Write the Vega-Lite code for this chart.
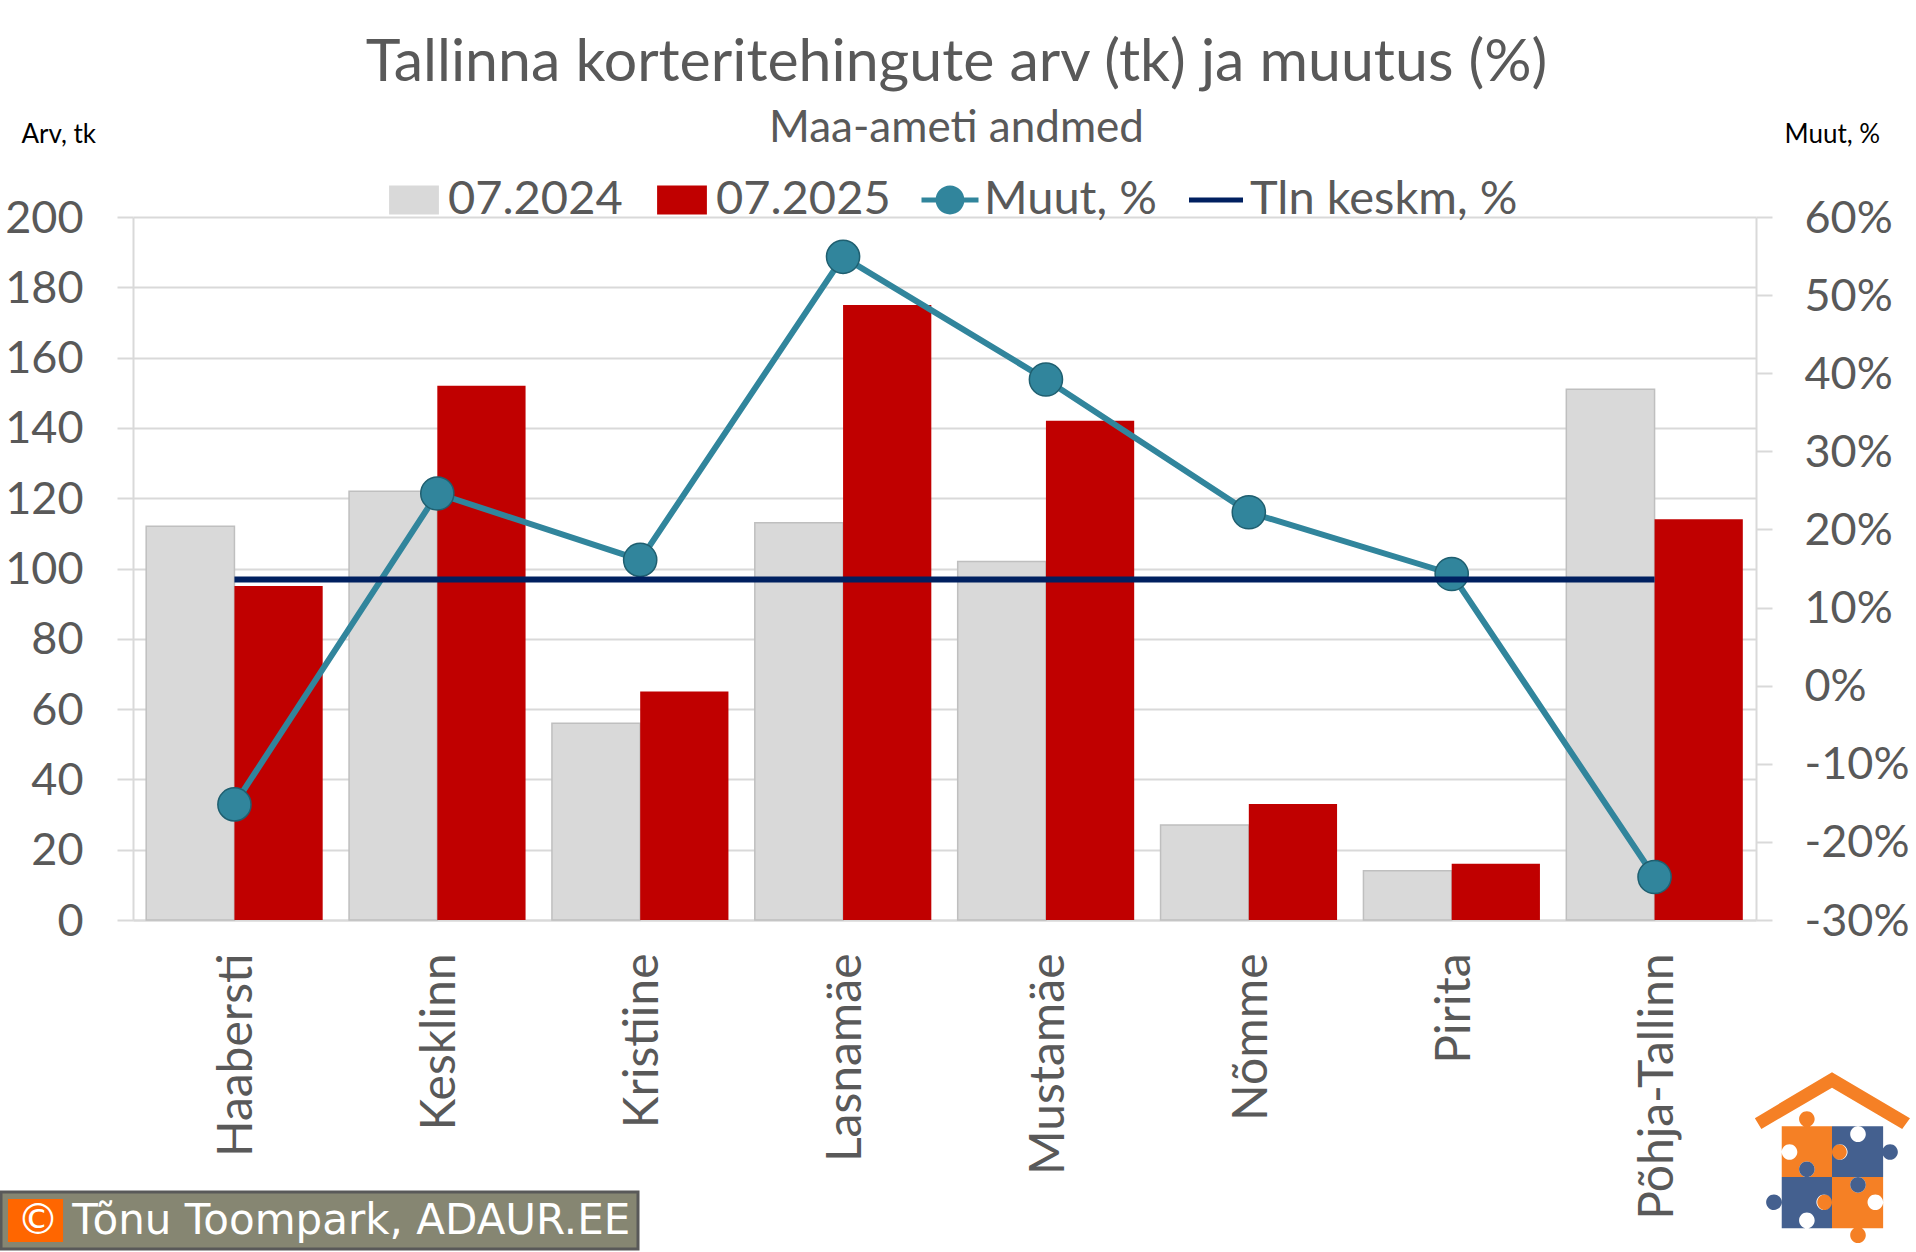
{
  "$schema": "https://vega.github.io/schema/vega-lite/v6.json",
  "autosize": "none",
  "width": 1623,
  "height": 703,
  "padding": {"left": 133, "top": 217, "right": 160, "bottom": 332},
  "background": "white",
  "title": {
    "text": "Tallinna korteritehingute arv (tk) ja muutus (%)",
    "subtitle": "Maa-ameti andmed",
    "anchor": "middle",
    "frame": "group",
    "dx": 12,
    "offset": -30,
    "font": "Lato",
    "fontWeight": "normal",
    "fontSize": 59,
    "color": "#595959",
    "subtitleFont": "Lato",
    "subtitleFontSize": 44,
    "subtitleColor": "#595959",
    "subtitlePadding": 14
  },
  "datasets": {
    "table": [
      {"piirkond": "Haabersti", "series": "07.2024", "value": 112},
      {"piirkond": "Kesklinn", "series": "07.2024", "value": 122},
      {"piirkond": "Kristiine", "series": "07.2024", "value": 56},
      {"piirkond": "Lasnamäe", "series": "07.2024", "value": 113},
      {"piirkond": "Mustamäe", "series": "07.2024", "value": 102},
      {"piirkond": "Nõmme", "series": "07.2024", "value": 27},
      {"piirkond": "Pirita", "series": "07.2024", "value": 14},
      {"piirkond": "Põhja-Tallinn", "series": "07.2024", "value": 151},
      {"piirkond": "Haabersti", "series": "07.2025", "value": 95},
      {"piirkond": "Kesklinn", "series": "07.2025", "value": 152},
      {"piirkond": "Kristiine", "series": "07.2025", "value": 65},
      {"piirkond": "Lasnamäe", "series": "07.2025", "value": 175},
      {"piirkond": "Mustamäe", "series": "07.2025", "value": 142},
      {"piirkond": "Nõmme", "series": "07.2025", "value": 33},
      {"piirkond": "Pirita", "series": "07.2025", "value": 16},
      {"piirkond": "Põhja-Tallinn", "series": "07.2025", "value": 114},
      {"piirkond": "Haabersti", "series": "Muut, %", "value": -0.152},
      {"piirkond": "Kesklinn", "series": "Muut, %", "value": 0.246},
      {"piirkond": "Kristiine", "series": "Muut, %", "value": 0.161},
      {"piirkond": "Lasnamäe", "series": "Muut, %", "value": 0.549},
      {"piirkond": "Mustamäe", "series": "Muut, %", "value": 0.392},
      {"piirkond": "Nõmme", "series": "Muut, %", "value": 0.222},
      {"piirkond": "Pirita", "series": "Muut, %", "value": 0.143},
      {"piirkond": "Põhja-Tallinn", "series": "Muut, %", "value": -0.245},
      {"piirkond": "Haabersti", "series": "Tln keskm, %", "value": 0.136},
      {"piirkond": "Kesklinn", "series": "Tln keskm, %", "value": 0.136},
      {"piirkond": "Kristiine", "series": "Tln keskm, %", "value": 0.136},
      {"piirkond": "Lasnamäe", "series": "Tln keskm, %", "value": 0.136},
      {"piirkond": "Mustamäe", "series": "Tln keskm, %", "value": 0.136},
      {"piirkond": "Nõmme", "series": "Tln keskm, %", "value": 0.136},
      {"piirkond": "Pirita", "series": "Tln keskm, %", "value": 0.136},
      {"piirkond": "Põhja-Tallinn", "series": "Tln keskm, %", "value": 0.136}
    ],
    "marks": [
      {"piirkond": "Haabersti", "credit": "© Tõnu Toompark, ADAUR.EE", "logo": "ADAUR katus", "logo2": "ADAUR pusle"}
    ]
  },
  "encoding": {
    "x": {
      "field": "piirkond",
      "type": "nominal",
      "sort": null,
      "scale": {
        "type": "band",
        "domain": ["Haabersti", "Kesklinn", "Kristiine", "Lasnamäe", "Mustamäe", "Nõmme", "Pirita", "Põhja-Tallinn"],
        "paddingInner": 0.13,
        "paddingOuter": 0.065
      },
      "axis": {
        "title": null,
        "labelAngle": -90,
        "labelAlign": "right",
        "labelBaseline": "middle",
        "labelPadding": 33,
        "labelOffset": 4,
        "labelLimit": 1000,
        "labelFont": "Lato",
        "labelFontSize": 48,
        "labelColor": "#595959",
        "ticks": false,
        "domainColor": "#d9d9d9",
        "domainWidth": 2
      }
    }
  },
  "layer": [
    {
      "data": {"name": "table"},
      "transform": [{"filter": "indexof(['07.2024','07.2025'], datum.series) >= 0"}],
      "mark": {"type": "bar", "strokeWidth": 1.5},
      "encoding": {
        "xOffset": {"field": "series", "type": "nominal", "scale": {"domain": ["07.2024", "07.2025"], "paddingInner": 0, "paddingOuter": 0}},
        "y": {
          "field": "value",
          "type": "quantitative",
          "scale": {"domain": [0, 200], "nice": false},
          "axis": {
            "orient": "left",
            "values": [0, 20, 40, 60, 80, 100, 120, 140, 160, 180, 200],
            "title": "Arv, tk",
            "titleFont": "Lato",
            "titleFontSize": 26,
            "titleFontWeight": "normal",
            "titleColor": "black",
            "titleAngle": 0,
            "titleAlign": "left",
            "titleBaseline": "alphabetic",
            "titleX": -112,
            "titleY": -75,
            "grid": true,
            "gridColor": "#d9d9d9",
            "gridWidth": 2,
            "domainColor": "#d9d9d9",
            "domainWidth": 2,
            "tickColor": "#d9d9d9",
            "tickWidth": 2,
            "tickSize": 16,
            "labelFont": "Lato",
            "labelFontSize": 45,
            "labelColor": "#595959",
            "labelPadding": 34,
            "labelOffset": 1
          }
        },
        "color": {
          "field": "series",
          "type": "nominal",
          "scale": {
            "domain": ["07.2024", "07.2025", "Muut, %", "Tln keskm, %"],
            "range": ["#d9d9d9", "#c00000", "#31859c", "#002060"]
          }
        },
        "stroke": {
          "condition": {"test": "datum.series === '07.2024'", "value": "#bfbfbf"},
          "value": null
        }
      }
    },
    {
      "data": {"name": "table"},
      "encoding": {
        "y": {
          "field": "value",
          "type": "quantitative",
          "scale": {"domain": [-0.3, 0.6], "nice": false},
          "axis": {
            "orient": "right",
            "values": [-0.3, -0.2, -0.1, 0, 0.1, 0.2, 0.3, 0.4, 0.5, 0.6],
            "labelExpr": "(datum.value < 0 ? '-' : '') + format(abs(datum.value), '.0%')",
            "title": "Muut, %",
            "titleFont": "Lato",
            "titleFontSize": 26,
            "titleFontWeight": "normal",
            "titleColor": "black",
            "titleAngle": 0,
            "titleAlign": "left",
            "titleBaseline": "alphabetic",
            "titleX": 28,
            "titleY": -75,
            "grid": false,
            "domainColor": "#d9d9d9",
            "domainWidth": 2,
            "tickColor": "#d9d9d9",
            "tickWidth": 2,
            "tickSize": 16,
            "labelFont": "Lato",
            "labelFontSize": 45,
            "labelColor": "#595959",
            "labelPadding": 32,
            "labelOffset": 1
          }
        },
        "color": {
          "field": "series",
          "type": "nominal",
          "scale": {"domain": ["07.2024", "07.2025", "Muut, %", "Tln keskm, %"], "range": ["#d9d9d9", "#c00000", "#31859c", "#002060"]}
        }
      },
      "layer": [
        {
          "transform": [{"filter": "datum.series === 'Muut, %'"}],
          "mark": {"type": "line", "strokeWidth": 6}
        },
        {
          "transform": [{"filter": "datum.series === 'Muut, %'"}],
          "mark": {"type": "point", "filled": true, "shape": "circle", "size": 1100, "stroke": "#1f5f70", "strokeWidth": 1.5, "opacity": 1}
        },
        {
          "transform": [{"filter": "datum.series === 'Tln keskm, %'"}],
          "mark": {"type": "line", "strokeWidth": 6}
        },
        {
          "transform": [{"filter": "false"}],
          "mark": {"type": "point", "filled": true, "size": 0},
          "encoding": {
            "color": {
              "field": "series",
              "type": "nominal",
              "scale": {"domain": ["07.2024", "07.2025", "Muut, %", "Tln keskm, %"], "range": ["#d9d9d9", "#c00000", "#31859c", "#002060"]},
              "legend": {
                "title": null,
                "orient": "none",
                "direction": "horizontal",
                "columns": 4,
                "legendX": 251,
                "legendY": -47,
                "symbolSize": 3600,
                "symbolStrokeWidth": 0,
                "symbolOpacity": 1,
                "labelFont": "Lato",
                "labelFontSize": 47,
                "labelColor": "#595959",
                "labelOffset": 4,
                "labelLimit": 1000,
                "columnPadding": 29,
                "padding": 0
              }
            },
            "shape": {
              "field": "series",
              "type": "nominal",
              "scale": {
                "domain": ["07.2024", "07.2025", "Muut, %", "Tln keskm, %"],
                "range": [
                  "M-.83,-.48 H.83 V.48 H-.83 Z",
                  "M-.83,-.48 H.83 V.48 H-.83 Z",
                  "M-.95,-.08 H.95 V.08 H-.95 Z M-.48,0 A.48,.48 0 1 1 .48,0 A.48,.48 0 1 1 -.48,0 Z",
                  "M-.9,-.08 H.9 V.08 H-.9 Z"
                ]
              },
              "legend": {
                "title": null,
                "orient": "none",
                "direction": "horizontal",
                "columns": 4,
                "legendX": 251,
                "legendY": -47,
                "symbolSize": 3600,
                "symbolStrokeWidth": 0,
                "symbolOpacity": 1,
                "labelFont": "Lato",
                "labelFontSize": 47,
                "labelColor": "#595959",
                "labelOffset": 4,
                "labelLimit": 1000,
                "columnPadding": 29,
                "padding": 0
              }
            }
          }
        }
      ]
    },
    {
      "data": {"name": "marks"},
      "mark": {"type": "point", "filled": true, "size": 0, "color": "#ff6600"},
      "encoding": {
        "opacity": {
          "field": "credit",
          "type": "nominal",
          "scale": {"range": [1]},
          "legend": {
            "title": null,
            "orient": "none",
            "legendX": -132,
            "legendY": 975,
            "symbolType": "M-1,-1 H1.56 V1 H-1 Z",
            "symbolSize": 1849,
            "symbolStrokeWidth": 0,
            "labelFont": "DejaVu Sans",
            "labelFontSize": 42,
            "labelColor": "white",
            "labelOffset": -34,
            "labelLimit": 1000,
            "fillColor": "#868672",
            "strokeColor": "#595959",
            "padding": 7
          }
        }
      }
    },
    {
      "data": {"name": "marks"},
      "mark": {"type": "point", "filled": true, "size": 0, "color": "#f58025"},
      "encoding": {
        "strokeDash": {
          "field": "logo",
          "type": "nominal",
          "scale": {"range": [[1, 0]]},
          "legend": {
            "title": null,
            "orient": "none",
            "legendX": 1612,
            "legendY": 854,
            "symbolType": "M-.89,-.46 L0,-.99 L.9,-.46 L.81,-.335 L0,-.81 L-.815,-.335 Z M-.58,-.365 H0 V.22 H-.58 Z M-.38,-.45 A.09,.09 0 1 1 -.2,-.45 A.09,.09 0 1 1 -.38,-.45 Z M-.01,-.07 A.09,.09 0 1 1 .17,-.07 A.09,.09 0 1 1 -.01,-.07 Z M-.58,-.07 A.09,.09 0 1 0 -.4,-.07 A.09,.09 0 1 0 -.58,-.07 Z M-.38,.13 A.09,.09 0 1 0 -.2,.13 A.09,.09 0 1 0 -.38,.13 Z M0,.22 H.59 V.81 H0 Z M-.17,.51 A.09,.09 0 1 1 .01,.51 A.09,.09 0 1 1 -.17,.51 Z M.21,.89 A.09,.09 0 1 1 .39,.89 A.09,.09 0 1 1 .21,.89 Z M.41,.51 A.09,.09 0 1 0 .59,.51 A.09,.09 0 1 0 .41,.51 Z M.21,.31 A.09,.09 0 1 0 .39,.31 A.09,.09 0 1 0 .21,.31 Z",
            "symbolSize": 30044,
            "symbolStrokeWidth": 0,
            "symbolOpacity": 1,
            "labelExpr": "''",
            "labelOffset": 0,
            "padding": 0
          }
        }
      }
    },
    {
      "data": {"name": "marks"},
      "mark": {"type": "point", "filled": true, "size": 0, "color": "#44608f"},
      "encoding": {
        "strokeWidth": {
          "field": "logo2",
          "type": "ordinal",
          "scale": {"range": [0]},
          "legend": {
            "title": null,
            "orient": "none",
            "legendX": 1699,
            "legendY": 941,
            "symbolType": "M0,-.365 H.59 V.22 H0 Z M.58,-.07 A.09,.09 0 1 1 .76,-.07 A.09,.09 0 1 1 .58,-.07 Z M.21,.31 A.09,.09 0 1 1 .39,.31 A.09,.09 0 1 1 .21,.31 Z M0,-.07 A.09,.09 0 1 0 .18,-.07 A.09,.09 0 1 0 0,-.07 Z M.21,-.275 A.09,.09 0 1 0 .39,-.275 A.09,.09 0 1 0 .21,-.275 Z M-.58,.22 H0 V.81 H-.58 Z M-.38,.13 A.09,.09 0 1 1 -.2,.13 A.09,.09 0 1 1 -.38,.13 Z M-.76,.51 A.09,.09 0 1 1 -.58,.51 A.09,.09 0 1 1 -.76,.51 Z M-.18,.51 A.09,.09 0 1 0 0,.51 A.09,.09 0 1 0 -.18,.51 Z M-.38,.72 A.09,.09 0 1 0 -.2,.72 A.09,.09 0 1 0 -.38,.72 Z",
            "symbolSize": 30044,
            "symbolStrokeWidth": 0,
            "symbolOpacity": 1,
            "labelExpr": "''",
            "labelOffset": 0,
            "padding": 0
          }
        }
      }
    }
  ],
  "resolve": {"scale": {"y": "independent"}},
  "view": {"stroke": null},
  "config": {"legend": {"strokeWidth": 3}}
}
